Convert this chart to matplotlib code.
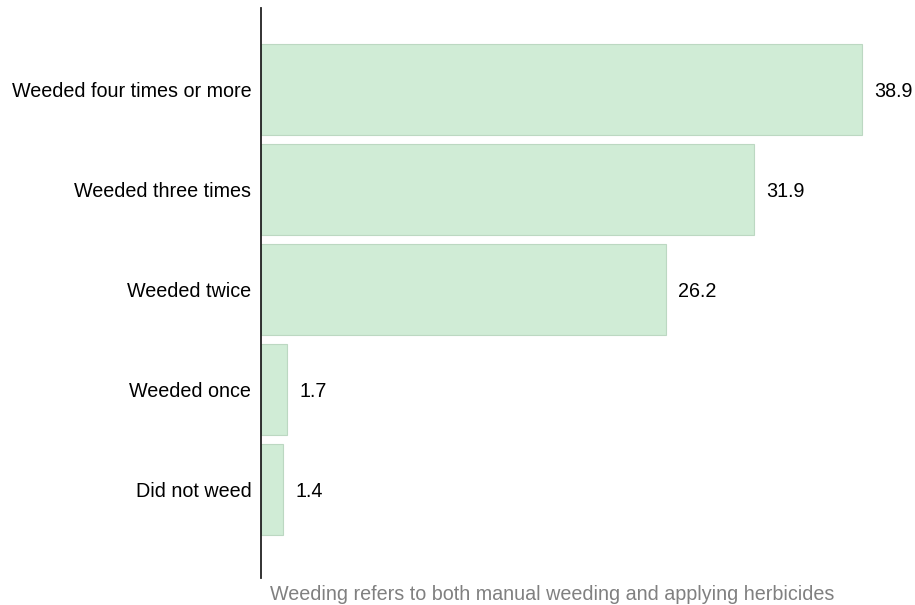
import matplotlib.pyplot as plt

categories = ['Did not weed', 'Weeded once', 'Weeded twice',
              'Weeded three times', 'Weeded four times or more']
values = [1.4, 1.7, 26.2, 31.9, 38.9]
caption = 'Weeding refers to both manual weeding and applying herbicides'

plt.rcParams['font.family'] = ['Liberation Sans', 'DejaVu Sans']

fig = plt.figure(figsize=(9.15, 6.05), dpi=100)
ax = fig.add_axes([261 / 915, 27 / 605, 654 / 915, 570 / 605])

ypos = range(len(categories))
ax.barh(ypos, values, height=0.91, color='#d0ecd6', edgecolor='#bcd8c2', linewidth=0.8)

for y, v in zip(ypos, values):
    ax.annotate(f'{v}', (v, y), xytext=(9, 0), textcoords='offset points',
                va='center_baseline', ha='left', fontsize=14.2)

ax.set_yticks(list(ypos))
ax.set_yticklabels(categories, fontsize=14.2, va='center_baseline')
ax.tick_params(axis='y', length=0, pad=7)
ax.set_xticks([])
ax.set_xlim(0, 654 / 15.45)
ax.set_ylim(-0.885, 4.815)
for s in ['top', 'right', 'bottom']:
    ax.spines[s].set_visible(False)
ax.spines['left'].set_linewidth(1.3)
ax.spines['left'].set_color('#222222')

fig.text(270 / 915, 1 - 595 / 605, caption, color='#808080', fontsize=14.2,
         va='center', ha='left')

fig.savefig('out.png', dpi=100)
